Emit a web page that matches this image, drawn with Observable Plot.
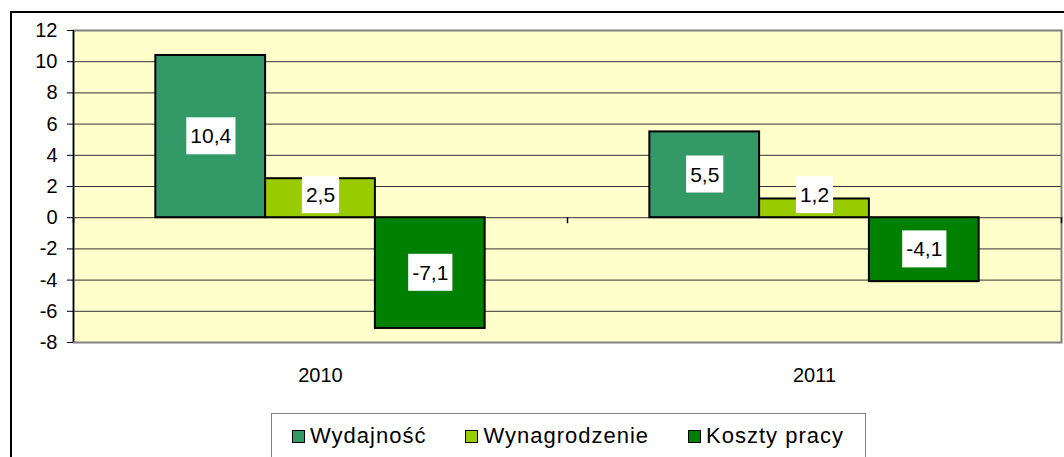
<!DOCTYPE html>
<html>
<head>
<meta charset="utf-8">
<script src="https://cdn.jsdelivr.net/npm/d3@7"></script>
<script src="https://cdn.jsdelivr.net/npm/@observablehq/plot@0.6"></script>
<style>
  html, body { margin: 0; padding: 0; background: #fff; overflow: hidden; width: 1064px; height: 457px; font-family: "Liberation Sans", Arial, sans-serif; }
  #chart { position: absolute; left: 0; top: 0; }
  #outer { position: absolute; left: 10px; top: 11px; width: 1100px; height: 500px; border-left: 2px solid #000; border-top: 2px solid #000; pointer-events: none; }
  #legend { position: absolute; left: 271px; top: 413px; width: 595px; box-sizing: border-box; border: 1px solid #808080; background: #fff;
            display: flex; flex-wrap: nowrap; align-items: center; height: 46px; padding-left: 20px; font-size: 22px; letter-spacing: 1px; line-height: 22px; color: #000; white-space: nowrap; }
  #legend .item { display: flex; align-items: center; margin-right: 39px; flex-shrink: 0; white-space: nowrap; }
  #legend .sw { width: 11px; height: 11px; border: 1.5px solid #000; margin-right: 5px; flex-shrink: 0; }
</style>
</head>
<body>
<div id="chart"></div>
<div id="legend"></div>
<div id="outer"></div>
<script>
// ---- data ----
const years = ["2010", "2011"];
const series = ["Wydajność", "Wynagrodzenie", "Koszty pracy"];
const colors = ["#339966", "#99CC00", "#008000"];
const values2010 = [10.4, 2.5, -7.1];
const values2011 = [5.5, 1.2, -4.1];
const yTicks = [-8, -6, -4, -2, 0, 2, 4, 6, 8, 10, 12];
const gapWidth = 1.5; // Excel-style gap width (150%)

// ---- table ----
const valuesByYear = [values2010, values2011];
const barW = 1 / (series.length + gapWidth);
const rows = [];
years.forEach((yr, i) => series.forEach((s, j) => {
  const x1 = i + (gapWidth * barW) / 2 + j * barW;
  rows.push({ year: yr, series: s, value: valuesByYear[i][j], x1, x2: x1 + barW });
}));

const plot = Plot.plot({
  width: 1064,
  height: 400,
  marginLeft: 73,
  marginRight: 3,
  marginTop: 30,
  marginBottom: 58,
  style: { fontFamily: "'Liberation Sans', Arial, sans-serif", fontSize: "20px", background: "transparent", overflow: "visible", color: "#000" },
  x: { domain: [0, years.length] },
  y: { domain: [yTicks[0], yTicks[yTicks.length - 1]] },
  color: { domain: series, range: colors },
  marks: [
    Plot.frame({ fill: "#FFFFCC", stroke: null }),
    Plot.gridY(yTicks, { stroke: "#333", strokeOpacity: 1, strokeWidth: 1 }),
    Plot.frame({ stroke: "#808080", strokeWidth: 2 }),
    Plot.ruleX([0], { stroke: "#000", strokeWidth: 1.5 }),
    Plot.axisY(yTicks, { label: null, tickSize: 6, tickPadding: 10, tickFormat: d => String(d), fontSize: 20, stroke: "#000", fill: "#000" }),
    Plot.ruleX(d3.range(years.length + 1), { y1: 0, y2: 0, insetBottom: -6, stroke: "#000", strokeWidth: 1.5 }),
    Plot.rectY(rows, { x1: "x1", x2: "x2", y1: 0, y2: "value", fill: "series", stroke: "#000", strokeWidth: 2 }),
    Plot.axisX(years.map((_, i) => i + 0.5), { label: null, tickSize: 0, tickPadding: 25, tickFormat: v => years[Math.floor(v)], fontSize: 20, fill: "#000" }),
    Plot.text(rows, { x: d => (d.x1 + d.x2) / 2, y: d => d.value / 2, text: d => String(d.value).replace(".", ","), fontSize: 21, fill: "#000" })
  ]
});
document.getElementById("chart").appendChild(plot);

// white boxes behind data labels
const y0 = plot.scale("y").apply(0);
const svgR = plot.getBoundingClientRect();
const padX = 4, padY = 7;
plot.querySelectorAll('g[aria-label="text"] text').forEach((t, k) => {
  const d = rows[k];
  const r = t.getBoundingClientRect();
  const bottom = r.bottom - svgR.top + padY;
  const top = r.top - svgR.top - padY;
  let shift = 0;
  if (d.value > 0 && bottom > y0 - 4) shift = bottom - (y0 - 4);
  if (d.value < 0 && top < y0 + 4) shift = top - (y0 + 4);
  if (shift) t.setAttribute("transform", (t.getAttribute("transform") || "") + ` translate(0,${-shift})`);
  const b = t.getBBox();
  const rect = document.createElementNS("http://www.w3.org/2000/svg", "rect");
  rect.setAttribute("x", b.x - padX);
  rect.setAttribute("y", b.y - padY);
  rect.setAttribute("width", b.width + 2 * padX);
  rect.setAttribute("height", b.height + 2 * padY);
  rect.setAttribute("fill", "#fff");
  rect.setAttribute("stroke", "none");
  if (t.getAttribute("transform")) rect.setAttribute("transform", t.getAttribute("transform"));
  t.parentNode.insertBefore(rect, t);
});

// legend
const legend = document.getElementById("legend");
series.forEach((s, i) => {
  const item = document.createElement("div");
  item.className = "item";
  const sw = document.createElement("div");
  sw.className = "sw";
  sw.style.background = colors[i];
  const lab = document.createElement("span");
  lab.textContent = s;
  item.appendChild(sw);
  item.appendChild(lab);
  legend.appendChild(item);
});
</script>
</body>
</html>
